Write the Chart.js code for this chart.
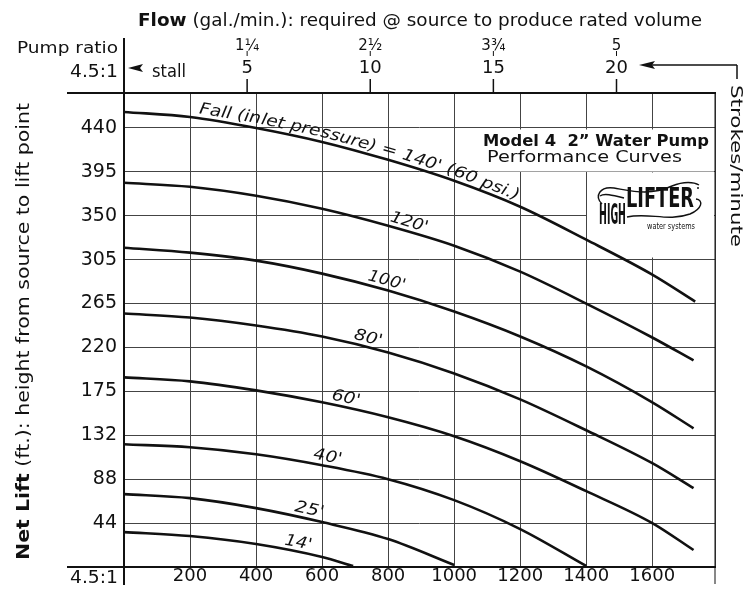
<!DOCTYPE html>
<html>
<head>
<meta charset="utf-8">
<script src="https://cdn.jsdelivr.net/npm/chart.js@4.4.1/dist/chart.umd.min.js"></script>
<style>
html, body { margin: 0; padding: 0; background: #fff; }
canvas { display: block; }
</style>
</head>
<body>
<canvas id="pump" width="745" height="589"></canvas>
<script>
// flow (gal./min.) where the curves are read, and the end flow of each curve
const flowGrid = [0, 200, 400, 600, 800, 1000, 1200, 1400, 1600];
const fallLabels = ["140'", "120'", "100'", "80'", "60'", "40'", "25'", "14'"];
const endFlow = [1730, 1725, 1725, 1725, 1725, 1400, 1000, 694];

// net lift (ft.) for each fall
const lift140 = [456, 451, 440, 426, 408, 387, 361, 328, 293, 266];
const lift120 = [385, 381, 372, 359, 342, 322, 296, 264, 230, 207];
const lift100 = [320, 315, 307, 294, 277, 256, 231, 201, 165, 139];
const lift80  = [254, 250, 242, 231, 215, 194, 168, 137, 104, 79];
const lift60  = [190, 186, 177, 165, 150, 131, 106, 76, 44, 17];
const lift40  = [123, 120, 113, 102, 88, 67, 38, 1];
const lift25  = [73, 69, 59, 45, 28, 2];
const lift14  = [35, 31, 23, 10, 1];

// axis ticks
const flowTicks = [0, 200, 400, 600, 800, 1000, 1200, 1400, 1600, 1790];
const liftTicks = [0, 44, 88, 132, 176, 220, 264, 308, 352, 396, 440, 475];
const liftTickLabels = ['', '44', '88', '132', '175', '220', '265', '305', '350', '395', '440', ''];
const strokeTicks = [5, 10, 15, 20];
const ratioTicks = ['1\u00BC', '2\u00BD', '3\u00BE', '5'];

const lifts = [lift140, lift120, lift100, lift80, lift60, lift40, lift25, lift14];

function curvePoints(lift, k) {
  return lift.map((v, i) => ({ x: i < lift.length - 1 ? flowGrid[i] : endFlow[k], y: v }));
}

const FONT = 'DejaVu Sans';
const INK = '#111';

// draws runs of text stretched to a target width
function drawRuns(ctx, parts, x, y, w, align) {
  let nat = 0;
  parts.forEach(p => { ctx.font = p[1]; nat += ctx.measureText(p[0]).width; });
  const sx = w ? w / nat : 1;
  const total = nat * sx;
  const start = align === 'center' ? x - total / 2 : align === 'right' ? x - total : x;
  ctx.save();
  ctx.translate(start, y);
  ctx.scale(sx, 1);
  ctx.textAlign = 'left';
  ctx.textBaseline = 'alphabetic';
  let cx = 0;
  parts.forEach(p => {
    ctx.font = p[1];
    ctx.fillText(p[0], cx, 0);
    cx += ctx.measureText(p[0]).width;
  });
  ctx.restore();
}

function yAt(pts, x) {
  for (let i = 1; i < pts.length; i++) {
    if (x <= pts[i].x || i === pts.length - 1) {
      const a = pts[i - 1], b = pts[i];
      return a.y + (x - a.x) / (b.x - a.x) * (b.y - a.y);
    }
  }
}

function arcLen(pts, x0, x1) {
  let len = 0;
  for (let x = x0; x < x1; x += 1) {
    const dy = yAt(pts, x + 1) - yAt(pts, x);
    len += Math.sqrt(1 + dy * dy);
  }
  return len;
}

function alongCurve(ctx, pts, text, x0, x1, off, font) {
  ctx.font = font;
  const nat = ctx.measureText(text).width;
  const sx = arcLen(pts, x0, x1) / nat;
  let x = x0;
  for (const ch of text) {
    const w = ctx.measureText(ch).width * sx;
    const ang = Math.atan2(yAt(pts, x + 2) - yAt(pts, x - 2), 4);
    const cx = x + (w / 2) * Math.cos(ang);
    const cy = yAt(pts, cx);
    const a2 = Math.atan2(yAt(pts, cx + 2) - yAt(pts, cx - 2), 4);
    ctx.save();
    ctx.translate(cx + off * Math.sin(a2), cy - off * Math.cos(a2));
    ctx.rotate(a2);
    ctx.scale(sx, 1);
    ctx.textAlign = 'center';
    ctx.textBaseline = 'alphabetic';
    ctx.fillText(ch, 0, 0);
    ctx.restore();
    x += w * Math.cos(ang);
  }
}

function line(ctx, x1, y1, x2, y2, w) {
  ctx.lineWidth = w;
  ctx.beginPath();
  ctx.moveTo(x1, y1);
  ctx.lineTo(x2, y2);
  ctx.stroke();
}

// label placement along curves, in pixels (start, end)
const labelSpan = [[198, 515], [388, 425], [366, 402], [352, 380], [330, 358], [312, 340], [293, 322], [283, 310]];

const boxes = {
  id: 'boxes',
  beforeDatasetsDraw(chart) {
    const ctx = chart.ctx;
    ctx.save();
    ctx.fillStyle = '#fff';
    ctx.fillRect(478, 129.5, 236, 42);
    ctx.fillRect(587, 172.5, 127, 85);
    ctx.restore();
  }
};

const decor = {
  id: 'decor',
  afterDraw(chart) {
    const ctx = chart.ctx;
    const x2 = chart.scales.x2;
    ctx.save();
    ctx.strokeStyle = INK;
    ctx.fillStyle = INK;

    // frame
    line(ctx, 124, 38, 124, 585, 2);
    line(ctx, 67, 93, 716, 93, 2);
    line(ctx, 67, 567, 716, 567, 2);
    line(ctx, 715, 93, 715, 584, 1);

    // top title
    drawRuns(ctx, [['Flow', 'bold 17px ' + FONT], [' (gal./min.): required @ source to produce rated volume', '17px ' + FONT]], 138, 26, 564, 'left');

    // pump ratio / stall
    drawRuns(ctx, [['Pump ratio', '16px ' + FONT]], 118, 53, 101, 'right');
    drawRuns(ctx, [['4.5:1', '17px ' + FONT]], 118, 77, 48, 'right');
    drawRuns(ctx, [['4.5:1', '17px ' + FONT]], 118, 583, 48, 'right');
    drawRuns(ctx, [['stall', '17px ' + FONT]], 152, 77, 34, 'left');
    ctx.beginPath();
    ctx.moveTo(128, 68); ctx.lineTo(143, 64); ctx.lineTo(140, 68); ctx.lineTo(143, 72); ctx.closePath();
    ctx.fill();

    // strokes/minute ticks with pump ratio
    strokeTicks.forEach((s, i) => {
      const px = x2.getPixelForValue(s);
      drawRuns(ctx, [[ratioTicks[i], '15px ' + FONT]], px, 50, 0, 'center');
      drawRuns(ctx, [[String(s), '18px ' + FONT]], px, 73, 0, 'center');
      line(ctx, px, 51, px, 56, 1);
      line(ctx, px, 79, px, 93, 1.5);
    });

    // arrow to strokes/minute
    line(ctx, 648, 65, 737, 65, 1.5);
    line(ctx, 737, 65, 737, 79, 1.5);
    ctx.beginPath();
    ctx.moveTo(639, 65); ctx.lineTo(655, 61); ctx.lineTo(652, 65); ctx.lineTo(655, 69); ctx.closePath();
    ctx.fill();
    ctx.save();
    ctx.translate(731, 85);
    ctx.rotate(Math.PI / 2);
    drawRuns(ctx, [['Strokes/minute', '16px ' + FONT]], 0, 0, 162, 'left');
    ctx.restore();

    // left axis title
    ctx.save();
    ctx.translate(29, 560);
    ctx.rotate(-Math.PI / 2);
    drawRuns(ctx, [['Net Lift', 'bold 17px ' + FONT], [' (ft.): height from source to lift point', '17px ' + FONT]], 0, 0, 457, 'left');
    ctx.restore();

    // title box
    drawRuns(ctx, [['Model 4  2\u201D Water Pump', 'bold 16px ' + FONT]], 483, 146, 226, 'left');
    drawRuns(ctx, [['Performance Curves', '16px ' + FONT]], 487, 162, 195, 'left');

    // logo
    ctx.lineWidth = 1.4;
    ctx.beginPath();
    ctx.moveTo(602, 204);
    ctx.bezierCurveTo(594, 196, 600, 186, 614, 188);
    ctx.bezierCurveTo(632, 191, 650, 196, 672, 186);
    ctx.bezierCurveTo(684, 181, 694, 182, 699, 185);
    ctx.stroke();
    ctx.beginPath();
    ctx.moveTo(600, 196);
    ctx.bezierCurveTo(604, 193, 612, 195, 624, 198);
    ctx.stroke();
    ctx.beginPath();
    ctx.moveTo(627, 217);
    ctx.bezierCurveTo(648, 212, 668, 222, 690, 214);
    ctx.bezierCurveTo(702, 209, 704, 200, 696, 199);
    ctx.stroke();
    drawRuns(ctx, [['HIGH', 'bold 28px "Liberation Sans Narrow", ' + FONT]], 599, 224, 27, 'left');
    drawRuns(ctx, [['LIFTER', 'bold 26px "Liberation Sans Narrow", ' + FONT]], 626, 207, 68, 'left');
    ctx.beginPath(); ctx.arc(698, 188, 1, 0, Math.PI * 2); ctx.fill();
    drawRuns(ctx, [['water systems', '8px ' + FONT]], 647, 229, 48, 'left');

    // curve labels
    chart.data.datasets.forEach((ds, k) => {
      const pts = chart.getDatasetMeta(k).data.map(p => ({ x: p.x, y: p.y }));
      const text = k === 0 ? 'Fall (inlet pressure) = ' + fallLabels[0] + ' (60 psi.)' : fallLabels[k];
      alongCurve(ctx, pts, text, labelSpan[k][0], labelSpan[k][1], 5, 'italic 16px ' + FONT);
    });
    ctx.restore();
  }
};

new Chart(document.getElementById('pump'), {
  type: 'line',
  data: {
    datasets: lifts.map((lift, k) => ({
      label: fallLabels[k],
      data: curvePoints(lift, k),
      borderColor: INK,
      borderWidth: 2.6,
      pointRadius: 0,
      cubicInterpolationMode: 'monotone',
      fill: false
    }))
  },
  options: {
    responsive: false,
    animation: false,
    devicePixelRatio: 1,
    layout: { padding: { left: 0, right: 30, top: 0, bottom: 0 } },
    plugins: { legend: { display: false }, tooltip: { enabled: false } },
    scales: {
      x: {
        type: 'linear',
        position: 'bottom',
        min: 0,
        max: 1790,
        afterFit(s) { s.height = 22; },
        afterBuildTicks(s) { s.ticks = flowTicks.map(v => ({ value: v })); },
        ticks: {
          autoSkip: false,
          maxRotation: 0,
          padding: 0,
          color: INK,
          font: { family: FONT, size: 18, lineHeight: 1 },
          callback: v => (v > 0 && v < 1700 ? String(v) : '')
        },
        grid: { color: '#444', lineWidth: 1, drawTicks: false },
        border: { display: false }
      },
      x2: {
        type: 'linear',
        position: 'top',
        min: 0,
        max: 24,
        afterFit(s) { s.height = 93; },
        ticks: { display: false },
        grid: { display: false },
        border: { display: false }
      },
      y: {
        type: 'linear',
        min: 0,
        max: 475,
        afterFit(s) { s.width = 124; },
        afterBuildTicks(s) { s.ticks = liftTicks.map(v => ({ value: v })); },
        ticks: {
          autoSkip: false,
          padding: 7,
          color: INK,
          font: { family: FONT, size: 19 },
          callback: (v, i) => liftTickLabels[i]
        },
        grid: { color: '#444', lineWidth: 1, drawTicks: false },
        border: { display: false }
      }
    }
  },
  plugins: [boxes, decor]
});
</script>
</body>
</html>
